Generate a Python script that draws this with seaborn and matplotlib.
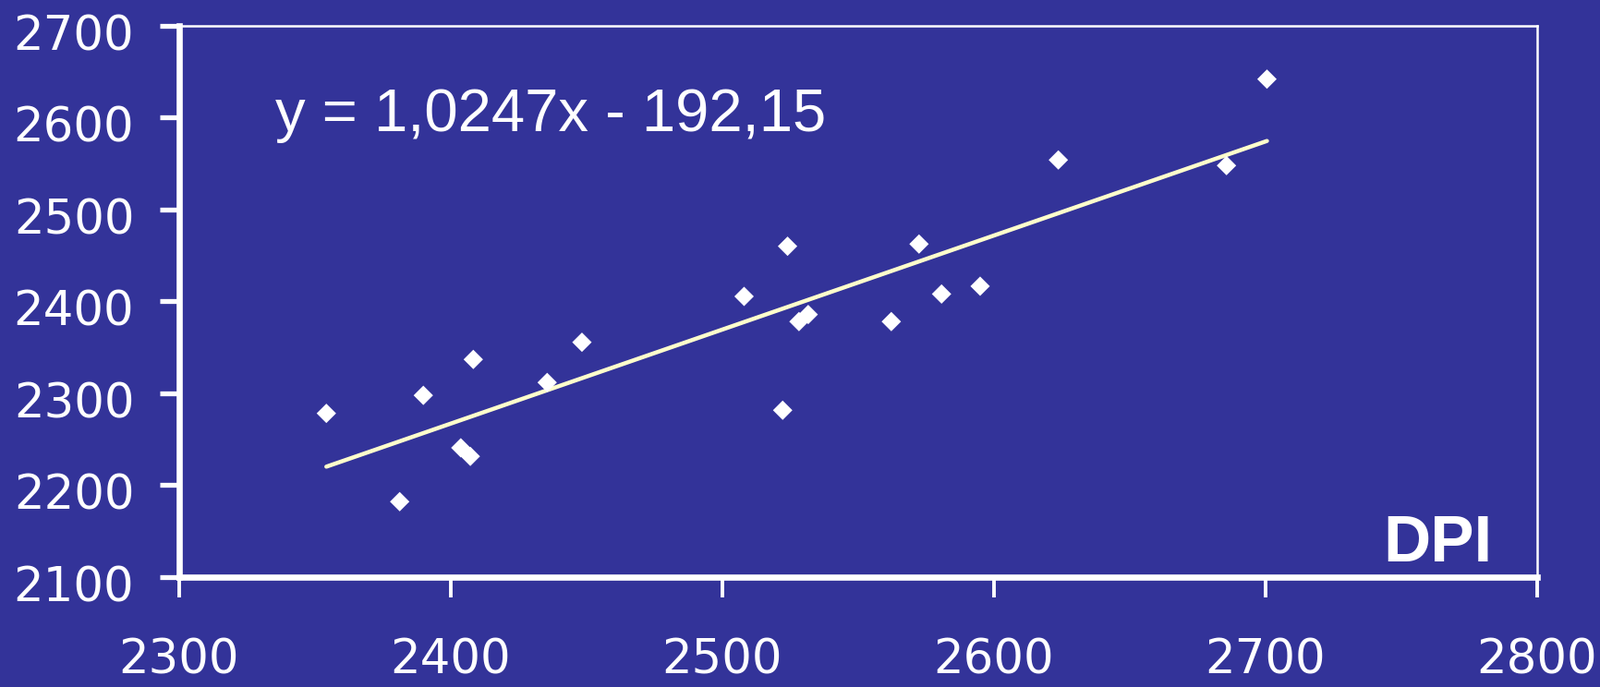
import matplotlib
matplotlib.use("Agg")
import matplotlib.pyplot as plt
import matplotlib.transforms as mtransforms
import seaborn as sns
import numpy as np
import pandas as pd

# Data
x_values = [2354.2, 2381.2, 2389.9, 2403.7, 2407.2, 2408.3, 2435.5, 2448.3, 2508.0, 2522.2,
            2524.0, 2528.2, 2531.6, 2562.2, 2572.4, 2580.7, 2594.9, 2623.7, 2685.6, 2700.5]
y_values = [2278.2, 2182.1, 2297.8, 2240.7, 2231.4, 2336.9, 2311.8, 2355.6, 2405.5, 2281.6,
            2460.1, 2378.1, 2385.8, 2378.1, 2462.5, 2408.1, 2416.6, 2554.0, 2547.9, 2642.0]
x_ticks = [2300, 2400, 2500, 2600, 2700, 2800]
y_ticks = [2100, 2200, 2300, 2400, 2500, 2600, 2700]
equation_label = "y = 1,0247x - 192,15"
corner_label = "DPI"

df = pd.DataFrame({"x": x_values, "y": y_values})

BG = "#333399"
sns.set_style("white")
plt.rcParams["font.family"] = ["Liberation Sans", "DejaVu Sans"]

fig = plt.figure(figsize=(17.33, 7.44), dpi=100, facecolor=BG)
ax = fig.add_axes([0.1119, 0.16, 0.8483, 0.8024])
ax.set_facecolor(BG)

sns.regplot(data=df, x="x", y="y", ax=ax, ci=None, truncate=True, marker="D",
            scatter_kws={"s": 115, "color": "white", "alpha": 1.0,
                         "edgecolors": "none", "zorder": 3},
            line_kws={"color": "#FFFFCC", "lw": 3.2, "zorder": 2})

ax.set_xlim(2300, 2800)
ax.set_ylim(2100, 2700)
ax.set_xticks(x_ticks)
ax.set_yticks(y_ticks)
ax.set_xticklabels([str(t) for t in x_ticks])
ax.set_yticklabels([str(t) for t in y_ticks])
ax.set_xlabel("")
ax.set_ylabel("")

for side, lw in [("left", 4.8), ("bottom", 4.8), ("top", 1.8), ("right", 1.8)]:
    ax.spines[side].set_visible(True)
    ax.spines[side].set_color("white")
    ax.spines[side].set_linewidth(lw)

ax.tick_params(axis="y", direction="out", length=15, width=3.8, color="white",
               labelcolor="white", labelsize=37, pad=20, left=True)
ax.tick_params(axis="x", direction="out", length=16, width=2.8, color="white",
               labelcolor="white", labelsize=37, pad=31, bottom=True)

for lab in ax.get_xticklabels() + ax.get_yticklabels():
    lab.set_fontfamily(["DejaVu Sans"])
shift = mtransforms.ScaledTranslation(0, -0.07, fig.dpi_scale_trans)
for lab in ax.get_yticklabels():
    lab.set_transform(lab.get_transform() + shift)

ax.text(0.0707, 0.809, equation_label, transform=ax.transAxes, color="white",
        fontsize=47, ha="left", va="baseline")
ax.text(0.9667, 0.0285, corner_label, transform=ax.transAxes, color="white",
        fontsize=51, fontweight="bold", ha="right", va="baseline")

fig.savefig("out.png", dpi=100, facecolor=BG)
